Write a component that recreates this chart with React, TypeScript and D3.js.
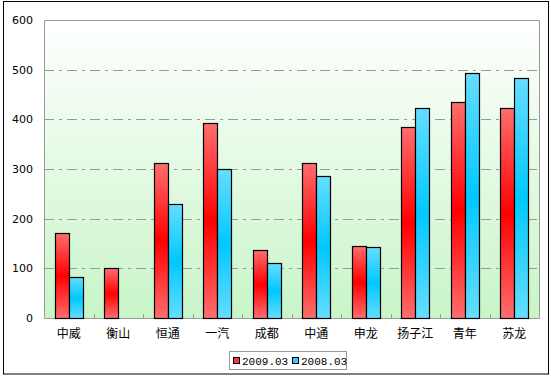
import React from "react";
import * as d3 from "d3";

const categories = ["中威", "衡山", "恒通", "一汽", "成都", "中通", "申龙", "扬子江", "青年", "苏龙"];
const series2009 = [172, 100, 313, 392, 137, 313, 144, 384, 434, 422];
const series2008 = [82, 0, 229, 300, 110, 285, 142, 422, 494, 484];
const seriesNames = ["2009.03", "2008.03"];
const yTicks = [0, 100, 200, 300, 400, 500, 600];

const W = 551;
const H = 376;
const plot = { left: 44, right: 539, top: 20, bottom: 318 };

export default function App() {
  const x = d3.scaleBand<string>().domain(categories).range([plot.left, plot.right]);
  const y = d3.scaleLinear().domain([0, 600]).range([plot.bottom, plot.top]);
  const barW = 14;
  const series = [series2009, series2008];
  const fills = ["url(#gRed)", "url(#gBlue)"];
  const swatch = ["#ff3333", "#33ccff"];
  return (
    <svg width={W} height={H} style={{ position: "absolute", left: 0, top: 0 }}>
      <defs>
        <linearGradient id="bg" x1="0" y1="0" x2="0" y2="1">
          <stop offset="0" stopColor="#ffffff" />
          <stop offset="1" stopColor="#c8f5c8" />
        </linearGradient>
        <linearGradient id="gRed" x1="0" y1="0" x2="0" y2="1">
          <stop offset="0" stopColor="#ff6e6e" />
          <stop offset="0.5" stopColor="#ff0000" />
          <stop offset="1" stopColor="#ff6e6e" />
        </linearGradient>
        <linearGradient id="gBlue" x1="0" y1="0" x2="0" y2="1">
          <stop offset="0" stopColor="#66ddff" />
          <stop offset="0.5" stopColor="#00c8ff" />
          <stop offset="1" stopColor="#66ddff" />
        </linearGradient>
      </defs>
      <rect x={0} y={0} width={W} height={H} fill="#fff" />
      <rect x={3.5} y={1.5} width={545} height={372.5} fill="none" stroke="#000" strokeWidth={1} />
      <rect
        x={plot.left}
        y={plot.top}
        width={plot.right - plot.left}
        height={plot.bottom - plot.top}
        fill="url(#bg)"
      />
      {yTicks.filter((t) => t > 0 && t < 600).map((t) => (
        <line
          key={t}
          x1={plot.left}
          x2={plot.right}
          y1={Math.round(y(t)) + 0.5}
          y2={Math.round(y(t)) + 0.5}
          stroke="#999"
          strokeDasharray="10,5,3,5"
        />
      ))}
      <path
        d={`M${plot.left + 0.5},${plot.bottom + 0.5}V${plot.top + 0.5}H${plot.right + 0.5}V${plot.bottom + 0.5}Z`}
        fill="none"
        stroke="#999"
      />
      {categories.slice(1).map((c) => (
        <line
          key={c}
          x1={Math.round(x(c)!) + 0.5}
          x2={Math.round(x(c)!) + 0.5}
          y1={plot.bottom}
          y2={plot.bottom - 4}
          stroke="#999"
        />
      ))}
      {yTicks.map((t) => (
        <text
          key={t}
          x={33}
          y={y(t) + 4}
          textAnchor="end"
          fontFamily="DejaVu Sans, sans-serif"
          fontSize={11}
          fill="#000"
        >
          {t}
        </text>
      ))}
      {categories.map((c, i) => {
        const cx = x(c)! + x.bandwidth() / 2;
        return (
          <g key={c}>
            {series.map((s, k) =>
              s[i] > 0 ? (
                <rect
                  key={k}
                  x={Math.round(cx - barW + k * barW) + 0.5}
                  y={Math.round(y(s[i])) + 0.5}
                  width={barW}
                  height={Math.round(y(0)) - Math.round(y(s[i]))}
                  fill={fills[k]}
                  stroke="#000"
                  strokeWidth={1.2}
                />
              ) : null
            )}
            <text
              x={cx}
              y={338}
              textAnchor="middle"
              fontFamily="Noto Sans CJK SC, sans-serif"
              fontSize={12}
              fill="#000"
            >
              {c}
            </text>
          </g>
        );
      })}
      <rect x={229.5} y={351.5} width={117} height={18} fill="#fff" stroke="#999" />
      {seriesNames.map((n, k) => (
        <g key={n} transform={`translate(${233 + k * 59},0)`}>
          <rect x={0.5} y={357.5} width={6} height={6} fill={swatch[k]} stroke="#000" />
          <text x={9} y={365} fontFamily="Liberation Mono, monospace" fontSize={11} fill="#000">
            {n}
          </text>
        </g>
      ))}
    </svg>
  );
}
